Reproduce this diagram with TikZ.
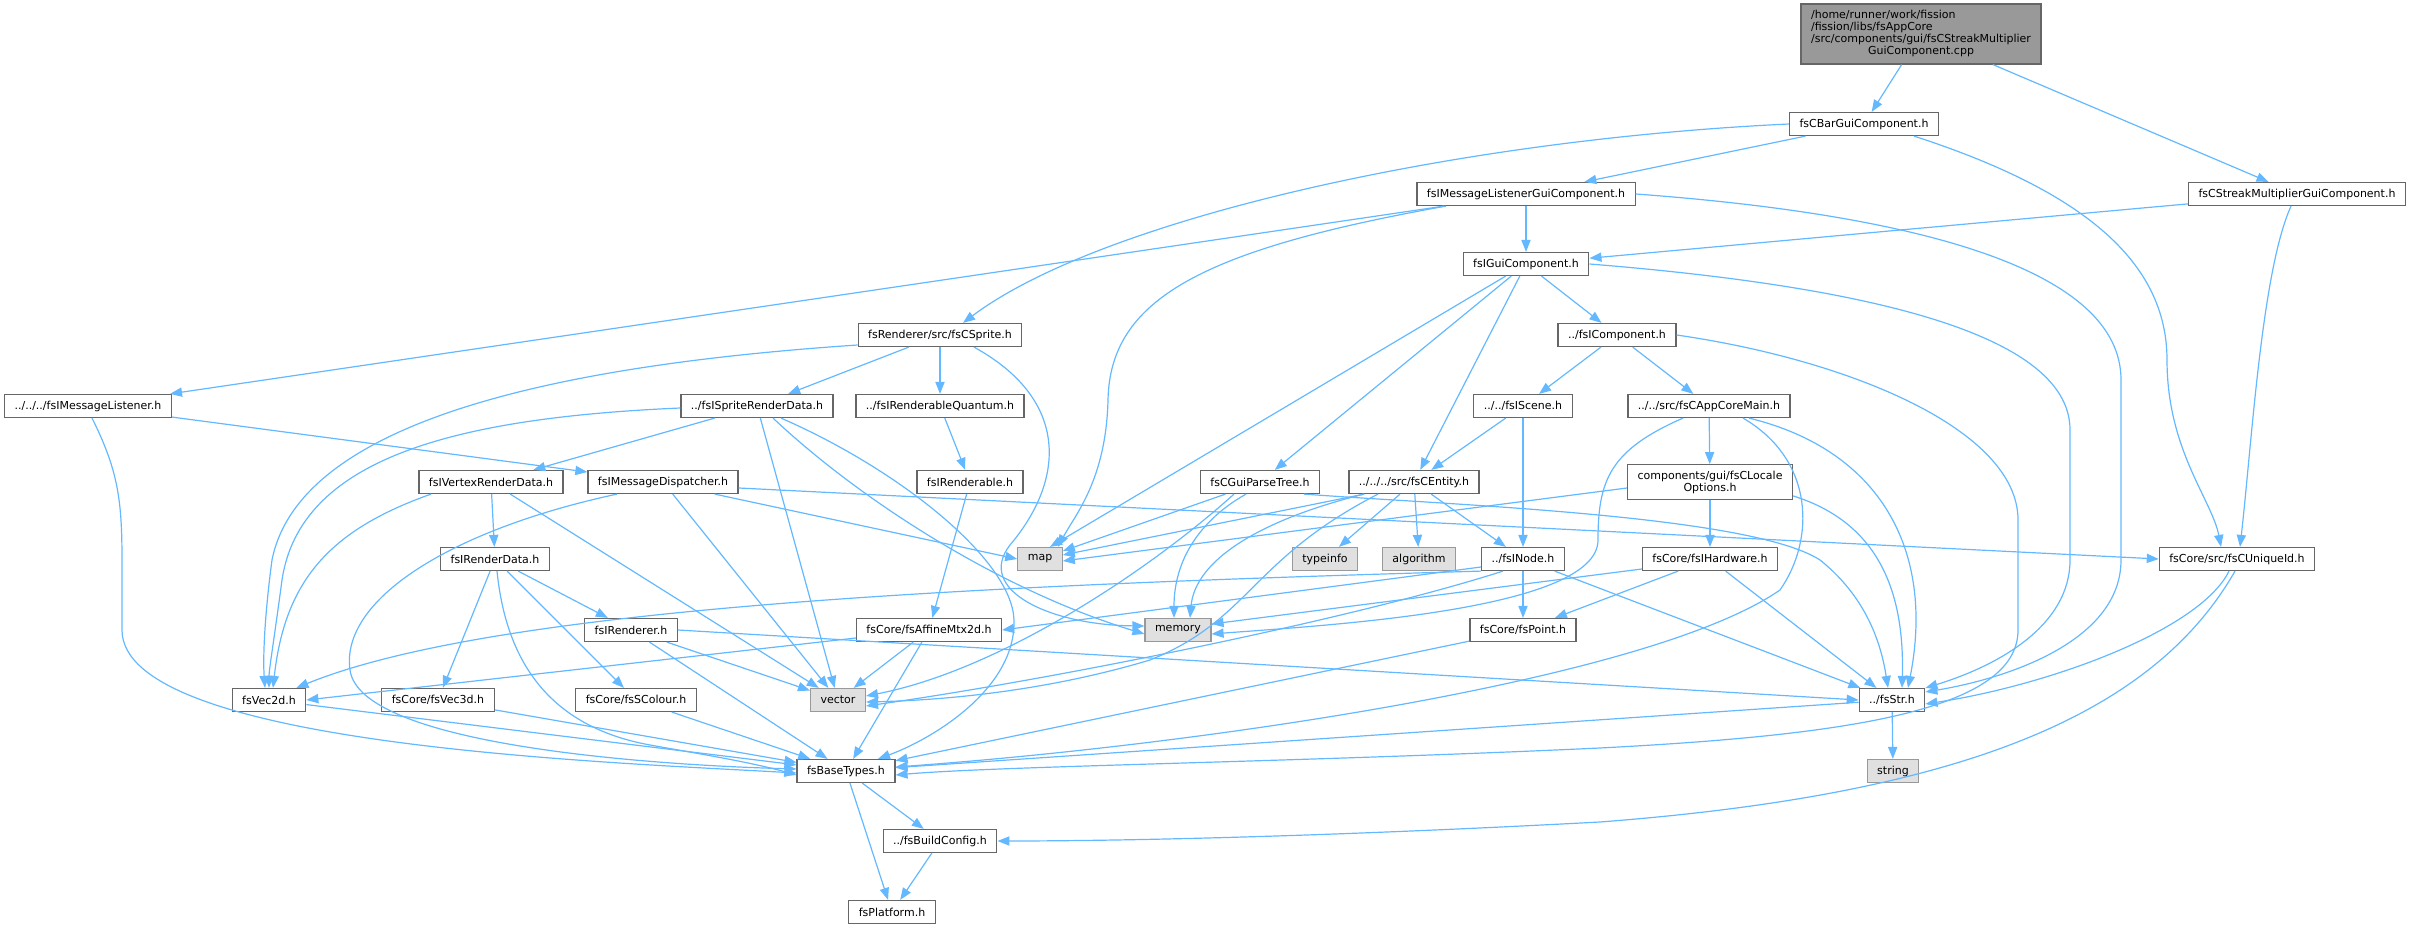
\documentclass[tikz,border=0pt]{standalone}
\usepackage{fontspec}
\setmainfont{DejaVu Sans}
\usetikzlibrary{arrows.meta}

\definecolor{incblue}{HTML}{63B8FF}
\definecolor{boxline}{HTML}{666666}
\definecolor{sysline}{HTML}{999999}
\definecolor{sysfill}{HTML}{E0E0E0}
\definecolor{rootfill}{HTML}{999999}

\begin{document}
\begin{tikzpicture}[x=0.5pt,y=-0.5pt,
   font=\fontsize{5.5pt}{6pt}\selectfont,
   hdr/.style={draw=boxline,fill=white,line width=0.6pt,inner xsep=5pt,inner ysep=3pt,minimum height=11.5pt},
   sys/.style={hdr,draw=sysline,fill=sysfill},
   rootbox/.style={hdr,draw=boxline,fill=rootfill},
   inc/.style={draw=incblue,line width=0.6pt,-{Triangle[length=6pt,width=4.6pt]}}]

   \useasboundingbox (0,0) rectangle (2409,929);

   % Root file
   \node[rootbox] (root) at (1921,34) {\begin{tabular}{@{}l@{}}/home/runner/work/fission\\/fission/libs/fsAppCore\\/src/components/gui/fsCStreakMultiplier\\\multicolumn{1}{@{}c@{}}{GuiComponent.cpp}\end{tabular}};

   % Headers, row by row
   \node[hdr] (bar) at (1864,124) {fsCBarGuiComponent.h};
   \node[hdr] (mlgui) at (1526,194) {fsIMessageListenerGuiComponent.h};
   \node[hdr] (streak) at (2297,194) {fsCStreakMultiplierGuiComponent.h};
   \node[hdr] (igui) at (1526,264) {fsIGuiComponent.h};
   \node[hdr] (sprite) at (940,335) {fsRenderer/src/fsCSprite.h};
   \node[hdr] (icomp) at (1617,335) {../fsIComponent.h};
   \node[hdr] (mlist) at (88,406) {../../../fsIMessageListener.h};
   \node[hdr] (srdata) at (757,406) {../fsISpriteRenderData.h};
   \node[hdr] (rquant) at (940,406) {../fsIRenderableQuantum.h};
   \node[hdr] (scene) at (1523,406) {../../fsIScene.h};
   \node[hdr] (appmain) at (1709,406) {../../src/fsCAppCoreMain.h};
   \node[hdr] (vrdata) at (491,482) {fsIVertexRenderData.h};
   \node[hdr] (mdisp) at (663,482) {fsIMessageDispatcher.h};
   \node[hdr] (rable) at (970,482) {fsIRenderable.h};
   \node[hdr] (gptree) at (1260,482) {fsCGuiParseTree.h};
   \node[hdr] (entity) at (1414,482) {../../../src/fsCEntity.h};
   \node[hdr,align=center] (locale) at (1710,482) {components/gui/fsCLocale\\Options.h};
   \node[hdr] (rdata) at (495,559) {fsIRenderData.h};
   \node[sys] (map) at (1040,559) {map};
   \node[sys] (typeinfo) at (1325,559) {typeinfo};
   \node[sys] (algorithm) at (1419,559) {algorithm};
   \node[hdr] (inode) at (1523,559) {../fsINode.h};
   \node[hdr] (hw) at (1710,559) {fsCore/fsIHardware.h};
   \node[hdr] (uid) at (2237,559) {fsCore/src/fsCUniqueId.h};
   \node[hdr] (renderer) at (631,630) {fsIRenderer.h};
   \node[hdr] (affine) at (929,630) {fsCore/fsAffineMtx2d.h};
   \node[sys] (memory) at (1178,630) {memory};
   \node[hdr] (point) at (1523,630) {fsCore/fsPoint.h};
   \node[hdr] (vec2) at (269,700) {fsVec2d.h};
   \node[hdr] (vec3) at (438,700) {fsCore/fsVec3d.h};
   \node[hdr] (colour) at (636,700) {fsCore/fsSColour.h};
   \node[sys] (vector) at (838,700) {vector};
   \node[hdr] (str) at (1892,700) {../fsStr.h};
   \node[hdr] (base) at (846,771) {fsBaseTypes.h};
   \node[sys] (string) at (1893,771) {string};
   \node[hdr] (bconf) at (940,841) {../fsBuildConfig.h};
   \node[hdr] (platform) at (892,912) {fsPlatform.h};

   % Straight includes
   \foreach \a/\b in {root/bar, root/streak, bar/mlgui, streak/igui, mlgui/igui,
                      mlgui/mlist, igui/icomp, igui/gptree, igui/entity,
                      sprite/srdata, sprite/rquant, icomp/scene, icomp/appmain,
                      mlist/mdisp, srdata/vrdata, srdata/vector, rquant/rable,
                      scene/entity, scene/inode, appmain/locale, vrdata/rdata,
                      vrdata/vector, mdisp/vector, rable/affine, gptree/map,
                      entity/typeinfo, entity/algorithm, entity/inode, locale/hw,
                      rdata/renderer, rdata/vec3, rdata/colour, inode/point,
                      inode/str, hw/point, hw/str, renderer/vector, renderer/base,
                      affine/vector, affine/base, point/base, vec2/base, vec3/base,
                      colour/base, str/base, str/string, base/bconf,
                      base/platform, bconf/platform}
       \draw[inc] (\a) -- (\b);

   % Includes with a bend or a port
   \draw[inc] (bar.west) .. controls (1450,140) and (1100,220) .. ([xshift=11.5pt]sprite.north);
   \draw[inc] ([xshift=25pt]bar.south) .. controls (2080,190) and (2167,260) .. (2167,360)
        .. controls (2167,450) and (2212,500) .. ([xshift=-8pt]uid.north);
   \draw[inc] ([xshift=-3pt]streak.south) .. controls (2262,270) and (2252,440) .. ([xshift=1.5pt]uid.north);

   \draw[inc] ([xshift=-40pt]mlgui.south) .. controls (1200,250) and (1110,300) .. (1108,400)
        .. controls (1106,480) and (1075,515) .. ([xshift=9pt]map.north);
   \draw[inc] (mlgui.east) .. controls (1920,215) and (2121,270) .. (2121,380) -- (2121,560)
        .. controls (2121,640) and (2010,678) .. ([yshift=4pt]str.east);

   \draw[inc] (igui) -- ([xshift=5pt]map.north);
   \draw[inc] (igui.east) .. controls (1850,285) and (2070,330) .. (2070,430) -- (2070,560)
        .. controls (2070,625) and (2000,665) .. ([yshift=6pt]str.east);

   \draw[inc] ([yshift=-5pt]sprite.west) .. controls (560,365) and (300,420) .. (272,560)
        .. controls (264,620) and (263,660) .. ([xshift=-2pt]vec2.north);
   \draw[inc] ([xshift=17pt]sprite.south) .. controls (1070,400) and (1065,480) .. (1010,545)
        .. controls (975,590) and (1050,625) .. ([yshift=2pt]memory.west);

   \draw[inc] (icomp.east) .. controls (1850,360) and (2018,430) .. (2018,520) -- (2018,630)
        .. controls (2018,710) and (1850,735) .. (1600,748)
        .. controls (1300,762) and (1000,766) .. ([yshift=-2pt]base.east);

   \draw[inc] ([xshift=2pt]mlist.south) .. controls (118,470) and (122,500) .. (122,560) -- (122,630)
        .. controls (122,745) and (600,762) .. ([yshift=-1pt]base.west);

   \draw[inc] ([yshift=-1pt]srdata.west) .. controls (450,418) and (300,460) .. (282,580)
        .. controls (274,640) and (269,670) .. (vec2.north);
   \draw[inc] ([xshift=8pt]srdata.south) .. controls (860,500) and (1000,590) .. ([yshift=-2pt]memory.west);
   \draw[inc] ([xshift=12pt]srdata.south) .. controls (900,470) and (1012,560) .. (1014,620)
        .. controls (1016,690) and (930,740) .. ([xshift=16pt]base.north);

   \draw[inc] ([xshift=-13pt]appmain.south) .. controls (1610,450) and (1598,480) .. (1598,540)
        .. controls (1598,610) and (1330,625) .. ([yshift=-2pt]memory.east);
   \draw[inc] ([xshift=20pt]appmain.south) .. controls (1880,450) and (1935,550) .. ([xshift=8pt]str.north);
   \draw[inc] ([xshift=17pt]appmain.south) .. controls (1815,460) and (1815,540) .. (1780,590)
        .. controls (1650,680) and (1200,745) .. ([yshift=2pt]base.east);

   \draw[inc] ([xshift=-30pt]vrdata.south) .. controls (330,530) and (285,580) .. ([xshift=2pt]vec2.north);

   \draw[inc] ([xshift=-23pt]mdisp.south) .. controls (450,530) and (340,600) .. (350,670)
        .. controls (360,745) and (650,765) .. ([yshift=1pt]base.west);
   \draw[inc] ([xshift=-12pt]mdisp.south east) -- (map.west);
   \draw[inc] ([yshift=-3pt]mdisp.east) -- (uid.west);

   \draw[inc] ([xshift=-7pt]gptree.south) .. controls (1200,520) and (1174,560) .. ([xshift=-2pt]memory.north);
   \draw[inc] ([xshift=-13pt]gptree.south) .. controls (1150,570) and (1000,670) .. ([yshift=2pt]vector.east);
   \draw[inc] ([xshift=22pt]gptree.south) .. controls (1450,505) and (1750,515) .. (1820,560)
        .. controls (1870,600) and (1882,650) .. ([xshift=-2pt]str.north);

   \draw[inc] ([xshift=8pt]entity.south west) -- ([yshift=2pt]map.east);
   \draw[inc] ([xshift=-25pt]entity.south) .. controls (1260,520) and (1195,560) .. ([xshift=6pt]memory.north);
   \draw[inc] ([xshift=-18pt]entity.south) .. controls (1250,560) and (1250,620) .. (1150,660)
        .. controls (1050,690) and (950,700) .. ([yshift=-1pt]vector.east);

   \draw[inc] ([yshift=-3pt]locale.west) -- ([yshift=-1pt]map.east);
   \draw[inc] ([yshift=2pt]locale.south east) .. controls (1870,520) and (1905,580) .. ([xshift=5pt]str.north);

   \draw[inc] ([xshift=1pt]rdata.south) .. controls (505,650) and (540,725) .. (650,745)
        .. controls (700,754) and (750,762) .. ([yshift=-2pt]base.west);

   \draw[inc] ([xshift=-10pt]inode.south) .. controls (1350,620) and (1050,680) .. ([yshift=-3pt]vector.east);
   \draw[inc] (inode.south west) .. controls (1000,585) and (500,605) .. ([xshift=-5pt]vec2.north east);
   \draw[inc] ([yshift=-4pt]inode.west) -- (affine.east);

   \draw[inc] ([yshift=-5pt]hw.west) -- ([yshift=3pt]memory.east);

   \draw[inc] ([xshift=-4pt]uid.south) .. controls (2200,630) and (2050,685) .. ([yshift=-2pt]str.east);
   \draw[inc] ([xshift=-1pt]uid.south) .. controls (2150,720) and (1950,795) .. (1600,822)
        .. controls (1300,838) and (1100,841) .. (bconf.east);

   \draw[inc] (renderer.east) -- (str.west);
   \draw[inc] ([yshift=-4pt]affine.west) -- (vec2.east);

\end{tikzpicture}
\end{document}
